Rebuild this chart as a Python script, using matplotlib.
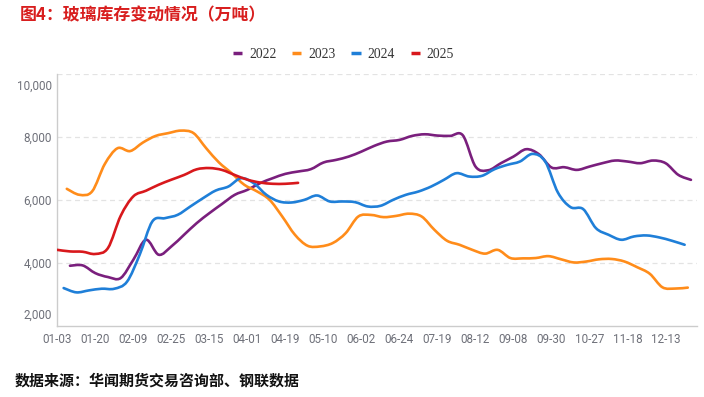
import numpy as np
import matplotlib
matplotlib.use("Agg")
import matplotlib.pyplot as plt
from matplotlib.transforms import ScaledTranslation
from matplotlib.path import Path
from matplotlib.patches import PathPatch
from matplotlib.lines import Line2D

# ---------------- data ----------------
tick_labels = ["01-03", "01-20", "02-09", "02-25", "03-15", "04-01", "04-19", "05-10",
               "06-02", "06-24", "07-19", "08-12", "09-08", "09-30", "10-27", "11-18", "12-13"]
n_categories = 203      # category slots on the x axis
label_every = 12        # one tick label every 12 categories
step = 4                # category slots between successive observations

start_2022 = 4
values_2022 = [3915, 3926, 3680, 3556, 3524, 4106, 4741, 4265, 4529, 4899,
               5270, 5587, 5880, 6169, 6328, 6539, 6698, 6836, 6910, 6984,
               7196, 7280, 7386, 7544, 7724, 7862, 7915, 8042, 8094, 8052,
               8042, 8060, 7068, 6950, 7174, 7386, 7619, 7460, 7037, 7047,
               6962, 7068, 7174, 7259, 7227, 7174, 7259, 7174, 6804, 6645]

start_2023 = 3
values_2023 = [6360, 6170, 6280, 7150, 7650, 7560, 7830, 8040, 8130, 8210,
               8130, 7650, 7200, 6860, 6490, 6280, 6010, 5480, 4900, 4550,
               4530, 4640, 4950, 5480, 5530, 5460, 5500, 5570, 5480, 5060,
               4710, 4580, 4420, 4300, 4420, 4160, 4150, 4160, 4220, 4120,
               4020, 4050, 4120, 4130, 4050, 3870, 3660, 3230, 3190, 3220]

start_2024 = 2
values_2024 = [3206, 3069, 3132, 3185, 3185, 3408, 4265, 5323, 5428, 5534,
               5799, 6063, 6306, 6433, 6698, 6539, 6169, 5958, 5926, 6010,
               6148, 5958, 5958, 5936, 5799, 5820, 6010, 6169, 6275, 6433,
               6645, 6857, 6751, 6772, 6984, 7121, 7227, 7470, 7227, 6243,
               5778, 5714, 5111, 4899, 4741, 4846, 4878, 4815, 4709, 4582]

start_2025 = 0
values_2025 = [4420, 4370, 4360, 4290, 4480, 5500, 6120, 6300, 6490, 6650,
               6800, 6980, 7020, 6960, 6800, 6650, 6560, 6520, 6520, 6550]

series = [
    ("2022", start_2022, values_2022, "#7a1f7d"),
    ("2023", start_2023, values_2023, "#ff8c1a"),
    ("2024", start_2024, values_2024, "#1f7fd8"),
    ("2025", start_2025, values_2025, "#d8181c"),
]

title = "图4：玻璃库存变动情况（万吨）"
source = "数据来源：华闻期货交易咨询部、钢联数据"


def smooth_path(x, y, k=1 / 6):
    """Bezier path through every data point (like a 'smooth' line style)."""
    pts = np.column_stack([x, y]).astype(float)
    n = len(pts)
    verts = [pts[0]]
    codes = [Path.MOVETO]
    for i in range(n - 1):
        p0 = pts[i - 1] if i > 0 else pts[i]
        p1 = pts[i]
        p2 = pts[i + 1]
        p3 = pts[i + 2] if i + 2 < n else pts[i + 1]
        c1 = p1 + (p2 - p0) * k
        c2 = p2 - (p3 - p1) * k
        verts += [c1, c2, p2]
        codes += [Path.CURVE4] * 3
    return Path(verts, codes)


# ---------------- figure ----------------
W, H = 704, 397
fig = plt.figure(figsize=(W / 100, H / 100), dpi=100)
ax = fig.add_axes([57.3 / W, 1 - 326.0 / H, 640.0 / W, (326.0 - 74.3) / H])

handles = []
for name, start, vals, color in series:
    x = start + step * np.arange(len(vals))
    patch = PathPatch(smooth_path(x, vals), facecolor="none", edgecolor=color,
                      lw=1.9, joinstyle="round", capstyle="round", zorder=3)
    ax.add_patch(patch)
    handles.append(Line2D([], [], color=color, lw=2.5, solid_capstyle="butt", label=name))

ax.set_xlim(0, n_categories - 1)
ax.set_ylim(2000, 10000)

ax.set_xticks(np.arange(len(tick_labels)) * label_every)
ax.set_xticklabels(tick_labels)
ax.set_yticks([2000, 4000, 6000, 8000, 10000])
ax.set_yticklabels([f"{v:,}" for v in [2000, 4000, 6000, 8000, 10000]])

ax.tick_params(axis="both", length=0, colors="#6e7079", labelsize=8.4)
ax.tick_params(axis="y", pad=4)
ax.tick_params(axis="x", pad=5)
for lab in ax.get_xticklabels() + ax.get_yticklabels():
    lab.set_fontfamily("Roboto")

# shift edge y labels inward like the reference
ylabs = ax.get_yticklabels()
ylabs[0].set_transform(ylabs[0].get_transform() + ScaledTranslation(0, 0.12, fig.dpi_scale_trans))
ylabs[-1].set_transform(ylabs[-1].get_transform() + ScaledTranslation(0, -0.105, fig.dpi_scale_trans))

for v in [4000, 6000, 8000, 10000]:
    ax.axhline(v, color="#e3e3e3", lw=0.9, ls=(0, (4, 3)), zorder=0)

for s in ["top", "right"]:
    ax.spines[s].set_visible(False)
for s in ["left", "bottom"]:
    ax.spines[s].set_color("#cccccc")
    ax.spines[s].set_linewidth(1.0)

# legend
leg = fig.legend(handles=handles, loc="center", bbox_to_anchor=(343.4 / W, 1 - 54.3 / H), ncol=4,
                 frameon=False, handlelength=0.7, handletextpad=0.5,
                 columnspacing=1.15, prop={"family": "Liberation Serif", "size": 9.8})
for t in leg.get_texts():
    t.set_color("#333333")

fig.text(20 / W, 1 - 15.5 / H, title, color="#d81e1e", fontsize=12.2, fontweight="bold",
         family=["Noto Sans CJK SC", "DejaVu Sans"], va="center", ha="left")
fig.text(15 / W, 1 - 380.5 / H, source, color="#111111", fontsize=10.8, fontweight="bold",
         family=["Noto Sans CJK SC", "DejaVu Sans"], va="center", ha="left")

fig.savefig("out.png", dpi=100)
